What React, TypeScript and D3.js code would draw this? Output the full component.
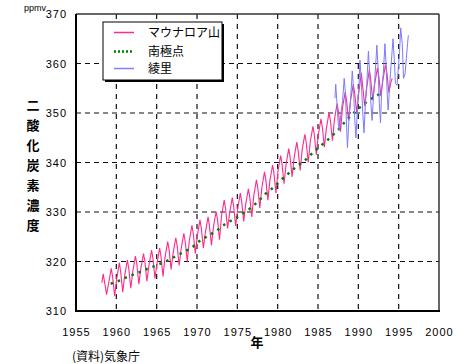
import React from 'react';
import * as d3 from 'd3';

const xTicks = [1955, 1960, 1965, 1970, 1975, 1980, 1985, 1990, 1995, 2000];
const yTicks = [310, 320, 330, 340, 350, 360, 370];
const legendLabels = ['マウナロア山', '南極点', '綾里'];
const yTitle = ['二', '酸', '化', '炭', '素', '濃', '度'];

// Mauna Loa (time, ppmv)
const maunaLoa: [number, number][] = [
  [1958.2, 315.7], [1958.37, 317.5], [1958.54, 315.9], [1958.79, 313.3],
  [1959.04, 315.6], [1959.37, 318.6], [1959.54, 316.9], [1959.79, 313.0],
  [1960.04, 316.4], [1960.37, 319.8], [1960.54, 317.9], [1960.79, 313.8],
  [1961.04, 317.2], [1961.37, 320.3], [1961.54, 318.6], [1961.79, 314.6],
  [1962.04, 318.0], [1962.37, 321.1], [1962.54, 319.5], [1962.79, 315.4],
  [1963.04, 318.6], [1963.37, 321.6], [1963.54, 320.0], [1963.79, 316.0],
  [1964.04, 319.2], [1964.37, 322.3], [1964.54, 320.6], [1964.79, 316.6],
  [1965.04, 319.6], [1965.37, 322.7], [1965.54, 321.0], [1965.79, 317.0],
  [1966.04, 320.9], [1966.37, 324.0], [1966.54, 322.4], [1966.79, 318.4],
  [1967.04, 321.7], [1967.37, 324.8], [1967.54, 323.2], [1967.79, 319.2],
  [1968.04, 322.6], [1968.37, 325.7], [1968.54, 324.0], [1968.79, 320.0],
  [1969.04, 324.1], [1969.37, 327.3], [1969.54, 325.6], [1969.79, 321.6],
  [1970.04, 325.2], [1970.37, 328.4], [1970.54, 326.7], [1970.79, 322.7],
  [1971.04, 325.9], [1971.37, 329.0], [1971.54, 327.3], [1971.79, 323.3],
  [1972.04, 327.0], [1972.37, 330.1], [1972.54, 328.5], [1972.79, 324.4],
  [1973.04, 329.2], [1973.37, 332.4], [1973.54, 330.7], [1973.79, 326.7],
  [1974.04, 329.7], [1974.37, 332.9], [1974.54, 331.2], [1974.79, 327.2],
  [1975.04, 330.6], [1975.37, 333.8], [1975.54, 332.1], [1975.79, 328.1],
  [1976.04, 331.6], [1976.37, 334.7], [1976.54, 333.0], [1976.79, 329.0],
  [1977.04, 333.3], [1977.37, 336.5], [1977.54, 334.8], [1977.79, 330.8],
  [1978.04, 334.9], [1978.37, 338.1], [1978.54, 336.4], [1978.79, 332.4],
  [1979.04, 336.4], [1979.37, 339.5], [1979.54, 337.8], [1979.79, 333.8],
  [1980.04, 338.3], [1980.37, 341.4], [1980.54, 339.7], [1980.79, 335.7],
  [1981.04, 339.6], [1981.37, 342.8], [1981.54, 341.1], [1981.79, 337.1],
  [1982.04, 341.0], [1982.37, 344.1], [1982.54, 342.4], [1982.79, 338.4],
  [1983.04, 342.6], [1983.37, 345.7], [1983.54, 344.0], [1983.79, 340.0],
  [1984.04, 344.2], [1984.37, 347.3], [1984.54, 345.6], [1984.79, 341.6],
  [1985.04, 345.6], [1985.37, 348.8], [1985.54, 347.1], [1985.79, 343.1],
  [1986.04, 346.9], [1986.37, 350.1], [1986.54, 348.4], [1986.79, 344.4],
  [1987.04, 348.7], [1987.37, 351.9], [1987.54, 350.2], [1987.79, 346.2],
  [1988.04, 351.1], [1988.37, 354.2], [1988.54, 352.5], [1988.79, 348.5],
  [1989.04, 352.6], [1989.37, 355.8], [1989.54, 354.1], [1989.79, 350.1],
  [1990.04, 353.9], [1990.37, 358.1], [1990.54, 355.4], [1990.79, 351.4],
  [1991.04, 355.1], [1991.37, 358.8], [1991.54, 356.6], [1991.79, 352.6],
  [1992.04, 356.0], [1992.37, 359.1], [1992.54, 357.4], [1992.79, 353.4],
  [1993.04, 356.6], [1993.37, 359.8], [1993.54, 358.1], [1993.79, 354.1],
  [1994.04, 356.3], [1994.2, 357.0],
];

// South Pole annual means
const southPole: [number, number][] = [
  [1959.3, 315.5], [1960.5, 316.2], [1961.5, 317.0], [1962.5, 317.6], [1963.5, 318.3],
  [1964.5, 318.9], [1965.5, 319.6], [1966.5, 320.3], [1967.5, 321.2], [1968.5, 322.0],
  [1969.5, 323.0], [1970.5, 324.4], [1971.5, 325.3], [1972.5, 326.3], [1973.5, 327.6],
  [1974.5, 328.5], [1975.5, 329.5], [1976.5, 330.6], [1977.5, 332.0], [1978.5, 333.7],
  [1979.5, 335.0], [1980.5, 336.6], [1981.5, 338.0], [1982.5, 339.4], [1983.5, 340.6],
  [1984.5, 342.2], [1985.5, 343.6], [1986.5, 345.0], [1987.5, 346.6], [1988.5, 348.5],
  [1989.5, 350.1], [1990.5, 351.6], [1991.5, 352.8], [1992.5, 353.7], [1992.9, 354.3],
];

// Ryori
const ryori: [number, number][] = [
  [1987.1, 353.0], [1987.2, 355.8], [1987.35, 352.0], [1987.5, 348.0], [1987.65, 346.5], [1987.85, 350.0],
  [1988.05, 352.5], [1988.25, 357.0], [1988.4, 354.0], [1988.55, 347.0], [1988.65, 343.0], [1988.85, 349.0],
  [1989.05, 353.0], [1989.25, 358.5], [1989.4, 355.0], [1989.55, 349.0], [1989.7, 345.0], [1989.9, 351.0],
  [1990.05, 354.5], [1990.2, 360.7], [1990.35, 357.0], [1990.55, 350.0], [1990.7, 346.0], [1990.9, 352.5],
  [1991.05, 356.0], [1991.25, 362.5], [1991.4, 358.0], [1991.55, 352.0], [1991.7, 348.5], [1991.9, 354.0],
  [1992.05, 357.0], [1992.3, 363.7], [1992.45, 359.0], [1992.6, 352.0], [1992.75, 348.0], [1992.9, 355.0],
  [1993.1, 358.0], [1993.3, 364.0], [1993.45, 359.5], [1993.6, 353.0], [1993.7, 350.6], [1993.9, 356.0],
  [1994.05, 359.5], [1994.3, 365.0], [1994.45, 361.0], [1994.6, 356.0], [1994.8, 355.6], [1994.95, 359.0],
  [1995.1, 362.0], [1995.25, 367.2], [1995.45, 364.0], [1995.6, 357.0], [1995.8, 358.0], [1995.95, 361.0],
  [1996.1, 364.0], [1996.2, 365.7],
];

const W = 466, H = 364;
const L = 76, R = 439, T = 14, B = 311;

export default function App() {
  const x = d3.scaleLinear().domain([1955, 2000]).range([L, R]);
  const y = d3.scaleLinear().domain([310, 370]).range([B, T]);
  const line = d3.line<[number, number]>().x(d => x(d[0])).y(d => y(d[1]));
  const font = "'Liberation Sans', Arial, sans-serif";
  const cjk = "'Noto Sans CJK JP', sans-serif";
  const legendColors = ['#ff2a8f', '#008000', '#8080ff'];
  return (
    <svg width={W} height={H} style={{ position: 'absolute', left: 0, top: 0, background: '#fff' }}>
      <rect x={0} y={0} width={W} height={H} fill="#fff" />
      {/* grid */}
      {xTicks.slice(1, -1).map(t => (
        <line key={'gx' + t} x1={x(t)} x2={x(t)} y1={T} y2={B} stroke="#111" strokeWidth={1.2} strokeDasharray="5,5" />
      ))}
      {yTicks.slice(1, -1).map(t => (
        <line key={'gy' + t} x1={L} x2={R} y1={y(t)} y2={y(t)} stroke="#111" strokeWidth={1.2} strokeDasharray="5,4" />
      ))}
      {/* series */}
      <path d={line(maunaLoa) || ''} fill="none" stroke="#ff2a8f" strokeWidth={1.1} />
      <path d={line(southPole) || ''} fill="none" stroke="#008000" strokeWidth={2.5} strokeDasharray="2.5,5" />
      <path d={line(ryori) || ''} fill="none" stroke="#7b7bff" strokeWidth={1} />
      {/* frame */}
      <line x1={L} x2={R} y1={T} y2={T} stroke="#333" strokeWidth={1.5} />
      <line x1={R} x2={R} y1={T} y2={B} stroke="#333" strokeWidth={1.5} />
      <line x1={L} x2={L} y1={T} y2={B + 1} stroke="#000" strokeWidth={2} />
      <line x1={L - 1} x2={R + 1} y1={B} y2={B} stroke="#000" strokeWidth={2} />
      {/* legend */}
      <rect x={105} y={24} width={119} height={58} fill="#000" />
      <rect x={103} y={22} width={119} height={58} fill="#fff" stroke="#000" strokeWidth={1} />
      {legendLabels.map((lab, i) => {
        const ly = [32.5, 51.5, 68.5][i];
        return (
          <g key={lab}>
            <line x1={114} x2={134} y1={ly} y2={ly} stroke={legendColors[i]} strokeWidth={i === 1 ? 2.5 : 1.5}
              strokeDasharray={i === 1 ? '2,2' : undefined} />
            <text x={148} y={ly + 4.5} fontFamily={cjk} fontSize={12} fill="#000">{lab}</text>
          </g>
        );
      })}
      {/* axis labels */}
      {yTicks.map(t => (
        <text key={'yl' + t} x={67} y={y(t) + 4} textAnchor="end" fontFamily={font} fontSize={11} letterSpacing={1} fill="#000">{t}</text>
      ))}
      {xTicks.map(t => (
        <text key={'xl' + t} x={x(t) + 0.5} y={336} textAnchor="middle" fontFamily={font} fontSize={11} letterSpacing={1} fill="#000">{t}</text>
      ))}
      <text x={24} y={11} fontFamily={font} fontSize={9} fill="#000">ppmv</text>
      {yTitle.map((c, i) => (
        <text key={c} x={33} y={110 + i * 20} textAnchor="middle" fontFamily={cjk} fontSize={13} fontWeight={700} fill="#000">{c}</text>
      ))}
      <text x={257} y={347} textAnchor="middle" fontFamily={cjk} fontSize={13} fontWeight={700} fill="#000">年</text>
      <text x={72} y={361} fontFamily={cjk} fontSize={12} fill="#000">(資料)気象庁</text>
    </svg>
  );
}
